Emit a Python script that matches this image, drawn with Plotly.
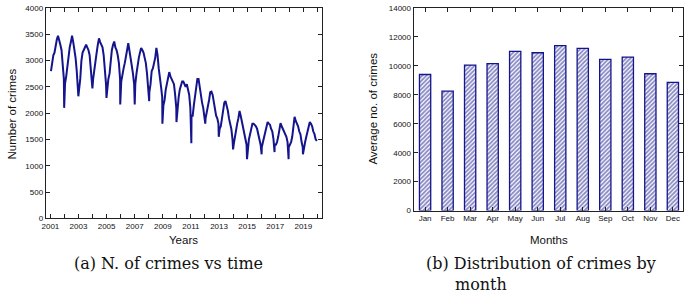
import plotly.graph_objects as go

# ---------------- data: panel (a) ----------------
series_years = list(range(2001, 2020))
monthly_crimes = [
    2800, 2950, 3100, 3150, 3300, 3400, 3470, 3350, 3300, 3200, 2900, 2650,  # 2001
    2560, 2700, 2900, 3050, 3250, 3350, 3470, 3350, 3200, 3050, 2800, 2550,  # 2002
    2450, 2650, 3000, 3150, 3200, 3250, 3300, 3250, 3200, 3100, 2850, 2600,  # 2003
    2650, 2850, 3000, 3150, 3300, 3420, 3350, 3300, 3250, 3100, 2850, 2550,  # 2004
    2450, 2650, 2750, 3050, 3200, 3300, 3360, 3250, 3200, 3100, 2950, 2650,  # 2005
    2600, 2750, 2850, 2950, 3050, 3200, 3330, 3150, 3050, 2900, 2750, 2550,  # 2006
    2550, 2750, 2950, 3050, 3150, 3240, 3200, 3150, 3050, 2950, 2750, 2450,  # 2007
    2400, 2550, 2800, 2850, 2950, 3050, 3240, 3100, 2850, 2700, 2500, 2300,  # 2008
    2150, 2250, 2450, 2550, 2650, 2780, 2700, 2650, 2600, 2550, 2350, 2100,  # 2009
    2150, 2300, 2450, 2550, 2600, 2600, 2550, 2500, 2550, 2450, 2350, 2100,  # 2010
    1950, 1950, 2150, 2350, 2500, 2650, 2650, 2500, 2300, 2200, 2100, 1950,  # 2011
    1900, 2000, 2150, 2250, 2400, 2410, 2350, 2200, 2050, 1950, 1900, 1800,  # 2012
    1700, 1750, 1900, 2050, 2200, 2230, 2150, 2050, 1900, 1800, 1700, 1500,  # 2013
    1400, 1550, 1700, 1800, 1900, 2040, 1950, 1850, 1750, 1650, 1550, 1400,  # 2014
    1350, 1500, 1600, 1700, 1800, 1800, 1780, 1750, 1700, 1600, 1500, 1400,  # 2015
    1350, 1450, 1550, 1650, 1780, 1830, 1800, 1780, 1700, 1650, 1500, 1400,  # 2016
    1400, 1450, 1550, 1650, 1810, 1750, 1700, 1650, 1600, 1550, 1450, 1350,  # 2017
    1400, 1450, 1550, 1750, 1930, 1850, 1800, 1750, 1650, 1600, 1450, 1350,  # 2018
    1350, 1450, 1550, 1650, 1750, 1830, 1800, 1750, 1650, 1600, 1500, 1470,  # 2019
]
dip_years = [2001.98, 2002.99, 2003.99, 2004.99, 2005.97, 2007.0, 2008.03,
             2008.97, 2009.97, 2011.03, 2012.02, 2012.98, 2014.0, 2014.99,
             2016.03, 2016.95, 2017.95, 2018.97]
dip_values = [2100, 2320, 2470, 2290, 2166, 2166, 2227, 1800, 1830, 1430,
              1800, 1550, 1310, 1125, 1217, 1260, 1125, 1217]
year_ticks = list(range(2001, 2020, 2))

# ---------------- data: panel (b) ----------------
months = ["Jan", "Feb", "Mar", "Apr", "May", "Jun",
          "Jul", "Aug", "Sep", "Oct", "Nov", "Dec"]
avg_crimes = [9400, 8250, 10050, 10150, 11000, 10900,
              11400, 11200, 10450, 10600, 9450, 8850]

# build time series from the read values
pts = []
for i, v in enumerate(monthly_crimes):
    y = series_years[i // 12]
    m = i % 12
    pts.append((y + (m + 0.5) / 12, v))
pts += list(zip(dip_years, dip_values))
pts.sort()
tx = [p[0] for p in pts]
ty = [p[1] for p in pts]

W, H = 685, 300
NAVY = "#14148c"
AX = "#222222"
SANS = "Liberation Sans, Arial, sans-serif"
SERIF = "DejaVu Serif, serif"

fig = go.Figure()
fig.add_trace(go.Scatter(x=tx, y=ty, mode="lines",
                         line=dict(color=NAVY, width=2),
                         xaxis="x", yaxis="y", showlegend=False))
fig.add_trace(go.Bar(x=list(range(len(months))), y=avg_crimes, width=0.5,
                     marker=dict(color="white",
                                 line=dict(color=NAVY, width=1.3),
                                 pattern=dict(shape="/", fgcolor=NAVY,
                                              bgcolor="white", size=3,
                                              solidity=0.6)),
                     xaxis="x2", yaxis="y2", showlegend=False))

axis_common = dict(showline=True, linecolor=AX, linewidth=1, mirror="allticks",
                   ticks="inside", ticklen=4, tickcolor=AX, showgrid=False,
                   zeroline=False, ticklabeloverflow="allow",
                   tickfont=dict(family=SANS, size=8, color="#111"))

fig.update_layout(
    width=W, height=H, margin=dict(l=0, r=0, t=0, b=0),
    paper_bgcolor="white", plot_bgcolor="white",
    xaxis=dict(domain=[42 / W, 319.5 / W], range=[2000.67, 2020.3],
               tickvals=year_ticks, ticktext=[str(v) for v in year_ticks],
               minor=dict(dtick=1, tick0=2001, ticks="inside", ticklen=4,
                          tickcolor=AX, showgrid=False),
               anchor="y", **axis_common),
    yaxis=dict(domain=[1 - 221 / H, 1 - 4 / H], range=[0, 4000], dtick=500,
               tickformat="d", anchor="x", **axis_common),
    xaxis2=dict(domain=[412 / W, 683 / W], range=[-0.51, 11.45],
                tickvals=list(range(len(months))), ticktext=months,
                anchor="y2", **axis_common),
    yaxis2=dict(domain=[1 - 213 / H, 1 - 4 / H], range=[0, 14000], dtick=2000,
                tickformat="d", anchor="x2", **axis_common),
)

def ann(text, x, y, size, family=SANS, angle=0, xanchor="center"):
    fig.add_annotation(text=text, x=x / W, y=1 - y / H, xref="paper", yref="paper",
                       showarrow=False, textangle=angle, xanchor=xanchor,
                       yanchor="middle", font=dict(family=family, size=size, color="#111"))

ann("Number of crimes", 8, 113, 11.5, angle=-90)
ann("Years", 181, 243, 11.5)
ann("Average no. of crimes", 371, 108, 11.5, angle=-90)
ann("Months", 548, 243, 11.5)
ann("(a) N. of crimes vs time", 165, 268, 16, family=SERIF)
ann("(b) Distribution of crimes by", 422, 268, 16, family=SERIF, xanchor="left")
ann("month", 452, 289, 16, family=SERIF, xanchor="left")

fig.write_html("out.html", config={"displayModeBar": False},
               post_script="document.body.style.margin='0';document.body.style.overflow='hidden';")
